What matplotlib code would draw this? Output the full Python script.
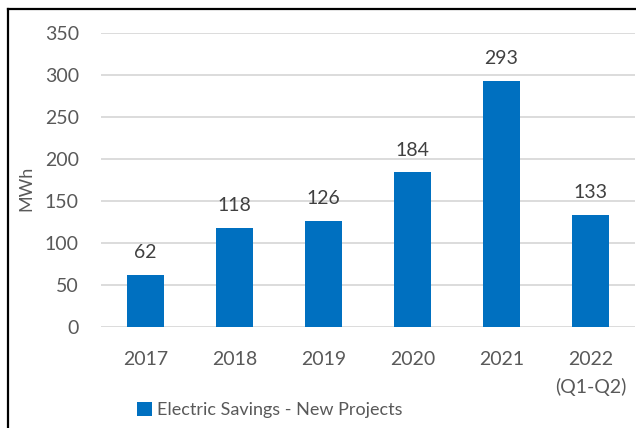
import matplotlib.pyplot as plt
from matplotlib.lines import Line2D
import numpy as np

years = ['2017', '2018', '2019', '2020', '2021', '2022\n(Q1-Q2)']
savings = [62, 118, 126, 184, 293, 133]
yticks = [0, 50, 100, 150, 200, 250, 300, 350]

plt.rcParams['font.family'] = ['Lato', 'DejaVu Sans']
grey = '#595959'
blue = '#0070C0'

fig = plt.figure(figsize=(6.36, 4.28), dpi=100)
ax = fig.add_axes([101 / 636, 1 - 327 / 428, 534 / 636, (327 - 33) / 428])

x = np.arange(len(years))
bars = ax.bar(x, savings, width=0.42, color=blue, zorder=3,
              label='Electric Savings - New Projects')
for xi, v in zip(x, savings):
    ax.annotate(str(v), (xi, v), xytext=(0, 10), textcoords='offset points',
                ha='center', va='bottom', fontsize=14, color='#404040')

ax.set_xlim(-0.5, len(years) - 0.5)
ax.set_ylim(0, 350)
ax.set_yticks(yticks)
ax.set_xticks(x)
ax.set_xticklabels(years, fontsize=14, color=grey, linespacing=1.7)
ax.tick_params(axis='y', labelsize=14, labelcolor=grey, length=0, pad=16)
ax.tick_params(axis='x', length=0, pad=17)
ax.grid(axis='y', color='#d9d9d9', linewidth=1.3, zorder=0)
for s in ax.spines.values():
    s.set_visible(False)
ax.set_ylabel('MWh', fontsize=13, color=grey)
ax.yaxis.set_label_coords(-0.125, 0.47)

# chart frame
fig.add_artist(Line2D([8 / 636, 8 / 636], [0, 1 - 9 / 428], color='black', lw=1.6))
fig.add_artist(Line2D([8 / 636, 1], [1 - 9 / 428, 1 - 9 / 428], color='black', lw=1.6))

fig.legend(handles=[bars], loc='center', bbox_to_anchor=(270 / 636, 1 - 410 / 428),
           frameon=False, fontsize=13, handlelength=0.8, handleheight=0.8,
           handletextpad=0.3, labelcolor=grey)

fig.savefig('out.png', dpi=100)
